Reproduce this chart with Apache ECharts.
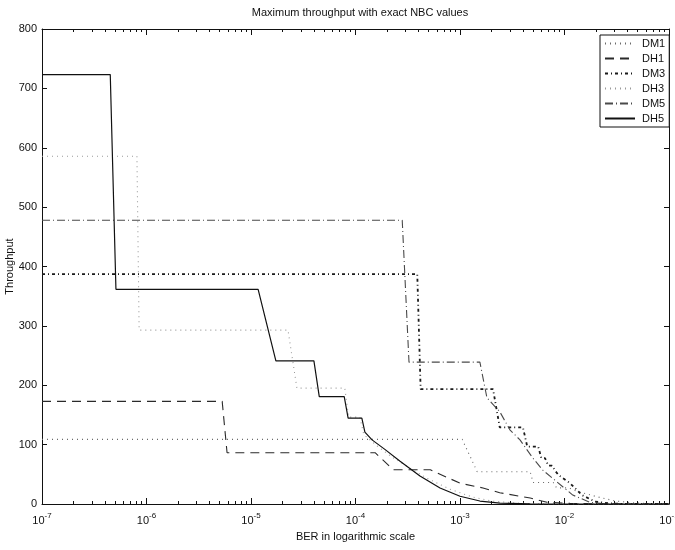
<!DOCTYPE html>
<html>
<head>
<meta charset="utf-8">
<script src="https://cdn.jsdelivr.net/npm/echarts@6/dist/echarts.min.js"></script>
<style>
  html, body { margin: 0; padding: 0; background: #fff; }
  #chart { width: 675px; height: 550px; }
</style>
</head>
<body>
<div id="chart"></div>
<script>
// Throughput (kbps) against bit error rate for each Bluetooth ACL packet type.
// Each series is a list of [BER, throughput] pairs.
const seriesNames = ['DM1', 'DH1', 'DM3', 'DH3', 'DM5', 'DH5'];

const dm1 = [
  [1e-7, 108.8], [1.05e-3, 108.8], [1.46e-3, 54.4], [4.7e-3, 54.4],
  [5.0e-3, 36.3], [7.8e-3, 36.3], [8.4e-3, 27.2], [1.1e-2, 27.2],
  [1.3e-2, 21.8], [1.7e-2, 16], [2.3e-2, 10], [3.1e-2, 5],
  [4.5e-2, 2], [6.5e-2, 0.5], [1e-1, 0.1]
];

const dh1 = [
  [1e-7, 172.8], [5.3e-6, 172.8], [5.9e-6, 86.4], [1.54e-4, 86.4],
  [2.3e-4, 57.6], [5.2e-4, 57.6], [1.0e-3, 35], [1.66e-3, 27],
  [2.4e-3, 19], [4.7e-3, 10], [6.8e-3, 3], [1.13e-2, 1],
  [2e-2, 0.2], [1e-1, 0]
];

const dm3 = [
  [1e-7, 387.2], [3.9e-4, 387.2], [4.2e-4, 193.6], [2.07e-3, 193.6],
  [2.4e-3, 129.1], [4.0e-3, 129.1], [4.4e-3, 96.8], [5.6e-3, 96.8],
  [6.0e-3, 77.4], [6.5e-3, 77.4], [7.0e-3, 64.5], [7.6e-3, 64.5],
  [8.2e-3, 55.3], [8.8e-3, 48.4], [1.13e-2, 35], [1.47e-2, 15],
  [1.96e-2, 4], [2.7e-2, 1], [4e-2, 0], [1e-1, 0]
];

const dh3 = [
  [1e-7, 585.6], [8.1e-7, 585.6], [8.5e-7, 292.8], [2.26e-5, 292.8],
  [2.75e-5, 195.2], [7.9e-5, 195.2], [8.6e-5, 146.4], [1.1e-4, 146.4],
  [1.2e-4, 117], [1.6e-4, 98], [2.2e-4, 80], [3.2e-4, 62],
  [5e-4, 42], [8e-4, 25], [1.3e-3, 12], [2e-3, 5],
  [3.5e-3, 1.5], [6e-3, 0.3], [1e-1, 0]
];

const dm5 = [
  [1e-7, 477.8], [2.8e-4, 477.8], [3.25e-4, 238.9], [1.55e-3, 238.9],
  [1.81e-3, 179], [2.41e-3, 155], [3.0e-3, 125], [3.75e-3, 108],
  [4.9e-3, 79], [6.2e-3, 57], [8.5e-3, 37], [1.2e-2, 15],
  [1.75e-2, 3], [2.4e-2, 0.5], [4e-2, 0], [1e-1, 0]
];

const dh5 = [
  [1e-7, 723.2], [4.5e-7, 723.2], [5.1e-7, 361.6], [1.17e-5, 361.6],
  [1.73e-5, 241.1], [4.0e-5, 241.1], [4.5e-5, 180.8], [7.8e-5, 180.8],
  [8.5e-5, 144.6], [1.15e-4, 144.6], [1.23e-4, 121], [1.44e-4, 108],
  [1.91e-4, 92], [2.67e-4, 72], [4.14e-4, 47], [6.44e-4, 27],
  [1e-3, 13], [1.55e-3, 5], [2.41e-3, 1.5], [4.7e-3, 0.2], [1e-1, 0]
];

// Tick positions
const decadeTicks = [1e-7, 1e-6, 1e-5, 1e-4, 1e-3, 1e-2, 1e-1];
const minorTicks = [];
for (let e = -7; e < -1; e++) {
  for (let m = 2; m <= 9; m++) minorTicks.push(Number((m * Math.pow(10, e)).toPrecision(3)));
}

const FONT = '"Liberation Sans", Arial, Helvetica, sans-serif';
const INK = '#111';

const chart = echarts.init(document.getElementById('chart'), null, { renderer: 'canvas' });

function logAxis(position, withLabels, tickValues, tickLen, showLine) {
  return {
    type: 'log',
    logBase: 10,
    min: 1e-7,
    max: 1e-1,
    position: position,
    gridIndex: 0,
    axisLine: { show: showLine, lineStyle: { color: INK, width: 1 } },
    axisTick: {
      show: true, inside: true, length: tickLen,
      customValues: tickValues,
      lineStyle: { color: INK, width: 1 }
    },
    minorTick: { show: false },
    splitLine: { show: false },
    axisLabel: withLabels ? {
      show: true,
      customValues: decadeTicks,
      margin: 5,
      formatter: function (v) {
        const p = Math.round(Math.log10(v));
        return '{b|10}{s|' + p + '}';
      },
      rich: {
        b: { fontFamily: FONT, fontSize: 11, color: INK, padding: [6, 0, 0, 0] },
        s: { fontFamily: FONT, fontSize: 8, color: INK, padding: [0, 0, 4, 0] }
      }
    } : { show: false },
    name: withLabels ? 'BER in logarithmic scale' : '',
    nameLocation: 'middle',
    nameGap: 27,
    nameMoveOverlap: false,
    nameTextStyle: { fontFamily: FONT, fontSize: 11, color: INK }
  };
}

function valueAxis(position, withLabels) {
  return {
    type: 'value',
    min: 0,
    max: 800,
    interval: 100,
    position: position,
    axisLine: { show: true, lineStyle: { color: INK, width: 1 } },
    axisTick: { show: true, inside: true, length: 5, lineStyle: { color: INK } },
    splitLine: { show: false },
    axisLabel: withLabels ? {
      show: true, fontFamily: FONT, fontSize: 11, color: INK, margin: 5
    } : { show: false },
    name: withLabels ? 'Throughput' : '',
    nameLocation: 'middle',
    nameGap: 27,
    nameRotate: 90,
    nameMoveOverlap: false,
    nameTextStyle: { fontFamily: FONT, fontSize: 11, color: INK }
  };
}

const styles = {
  DM1: { color: '#6a6a6a', width: 1.1, type: [1, 4] },
  DH1: { color: '#2a2a2a', width: 1.1, type: [9, 6] },
  DM3: { color: '#1a1a1a', width: 1.8, type: [3, 3, 1, 3] },
  DH3: { color: '#9a9a9a', width: 1.1, type: [1, 4] },
  DM5: { color: '#4a4a4a', width: 1.1, type: [8, 3, 1, 3] },
  DH5: { color: '#111111', width: 1.2, type: 'solid' }
};
const dataByName = { DM1: dm1, DH1: dh1, DM3: dm3, DH3: dh3, DM5: dm5, DH5: dh5 };

const series = seriesNames.map(function (n) {
  return {
    name: n,
    type: 'line',
    xAxisIndex: 0,
    yAxisIndex: 0,
    data: dataByName[n],
    symbol: 'none',
    animation: false,
    lineStyle: styles[n],
    itemStyle: { color: styles[n].color },
    z: n === 'DH5' ? 5 : 3
  };
});

chart.setOption({
  animation: false,
  backgroundColor: '#ffffff',
  title: {
    text: 'Maximum throughput with exact NBC values',
    left: 355,
    textAlign: 'center',
    top: 2,
    textStyle: { fontFamily: FONT, fontSize: 11, fontWeight: 'normal', color: INK }
  },
  grid: { left: 42, right: 6, top: 29, bottom: 46, containLabel: false, outerBoundsMode: 'none' },
  legend: {
    orient: 'vertical',
    left: 600,
    top: 35,
    width: 68,
    padding: [3, 4, 3, 4],
    itemGap: 4,
    itemWidth: 30,
    itemHeight: 12,
    backgroundColor: '#fff',
    borderColor: INK,
    borderWidth: 1,
    borderRadius: 0,
    itemStyle: { opacity: 0 },
    data: seriesNames,
    textStyle: { fontFamily: FONT, fontSize: 11, color: INK, padding: [0, 0, 0, 2] }
  },
  xAxis: [
    logAxis('bottom', true, decadeTicks, 6, true),
    logAxis('bottom', false, minorTicks, 3, false),
    logAxis('top', false, decadeTicks, 6, true),
    logAxis('top', false, minorTicks, 3, false)
  ],
  yAxis: [
    valueAxis('left', true),
    valueAxis('right', false)
  ],
  series: series
});
</script>
</body>
</html>
